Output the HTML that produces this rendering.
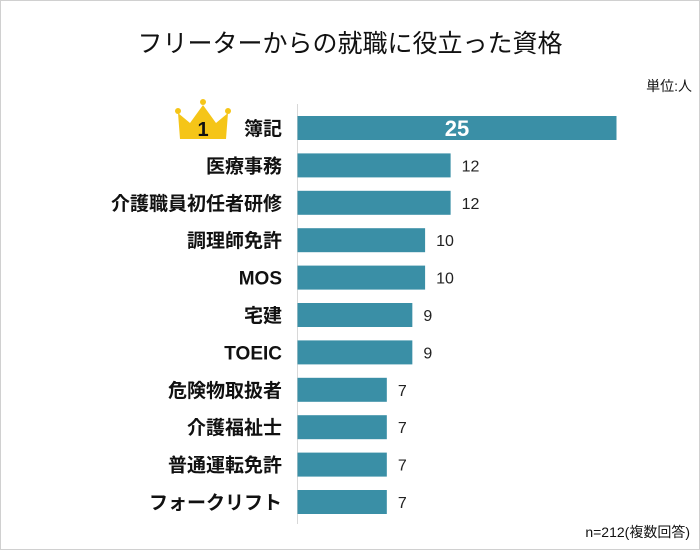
<!DOCTYPE html>
<html><head><meta charset="utf-8"><style>
body{margin:0;background:#fff}
#c{position:relative;width:700px;height:550px;font-family:"Liberation Sans","Noto Sans CJK JP",sans-serif}
</style></head><body>
<div id="c">
<svg width="700" height="550" xmlns="http://www.w3.org/2000/svg">
<rect x="0.5" y="0.5" width="699" height="549" fill="#fff" stroke="#d0d0d0"/>
<text x="350" y="52" text-anchor="middle" font-size="25" fill="#111" font-family="Liberation Sans,Noto Sans CJK JP,sans-serif">フリーターからの就職に役立った資格</text>
<text x="692" y="91" text-anchor="end" font-size="14" fill="#111" font-family="Liberation Sans,Noto Sans CJK JP,sans-serif">単位:人</text>
<text x="690" y="537" text-anchor="end" font-size="14" fill="#111" font-family="Liberation Sans,Noto Sans CJK JP,sans-serif">n=212(複数回答)</text>
<line x1="297.5" y1="104" x2="297.5" y2="524" stroke="#d8d8d8"/>
<g>
<path d="M178,113 L190,123 L203,105 L216,123 L228,113 L226,139 L180,139 Z" fill="#f5c518"/>
<circle cx="178" cy="111" r="3" fill="#f5c518"/><circle cx="203" cy="102" r="3" fill="#f5c518"/><circle cx="228" cy="111" r="3" fill="#f5c518"/>
<text x="203" y="136" text-anchor="middle" font-size="20" font-weight="bold" fill="#111" font-family="Liberation Sans,sans-serif">1</text>
</g>
<g id="bars"></g>
</svg>
</div>
<script>
const categories=["簿記","医療事務","介護職員初任者研修","調理師免許","MOS","宅建","TOEIC","危険物取扱者","介護福祉士","普通運転免許","フォークリフト"];
const values=[25,12,12,10,10,9,9,7,7,7,7];
const valueLabels=["25","12","12","10","10","9","9","7","7","7","7"];
const NS="http://www.w3.org/2000/svg";
const x0=297.5, unit=12.76;
function xs(v){return x0+v*unit;}
function yc(i){return 128+i*37.4;}
const g=document.getElementById('bars');
function mk(t,a){const e=document.createElementNS(NS,t);for(const k in a)e.setAttribute(k,a[k]);return e;}
categories.forEach((c,i)=>{
 const r=mk('rect',{x:x0,y:yc(i)-12,width:xs(values[i])-x0,height:24,fill:'#3a8fa6'});
 
 
 g.appendChild(r);
 const l=mk('text',{x:282,y:yc(i)+7,'text-anchor':'end','font-size':19,'font-weight':'bold',fill:'#111','font-family':'Liberation Sans,Noto Sans CJK JP,sans-serif'});
 l.textContent=c;
 
 
 g.appendChild(l);
 let v;
 if(i===0){v=mk('text',{x:(x0+xs(values[i]))/2,y:yc(i)+8,'text-anchor':'middle','font-size':22,'font-weight':'bold',fill:'#fff','font-family':'Liberation Sans,sans-serif'});}
 else{v=mk('text',{x:xs(values[i])+11,y:yc(i)+6,'font-size':16,fill:'#222','font-family':'Liberation Sans,sans-serif'});}
 v.textContent=valueLabels[i];
 
 
 g.appendChild(v);
});
</script>
</body></html>
